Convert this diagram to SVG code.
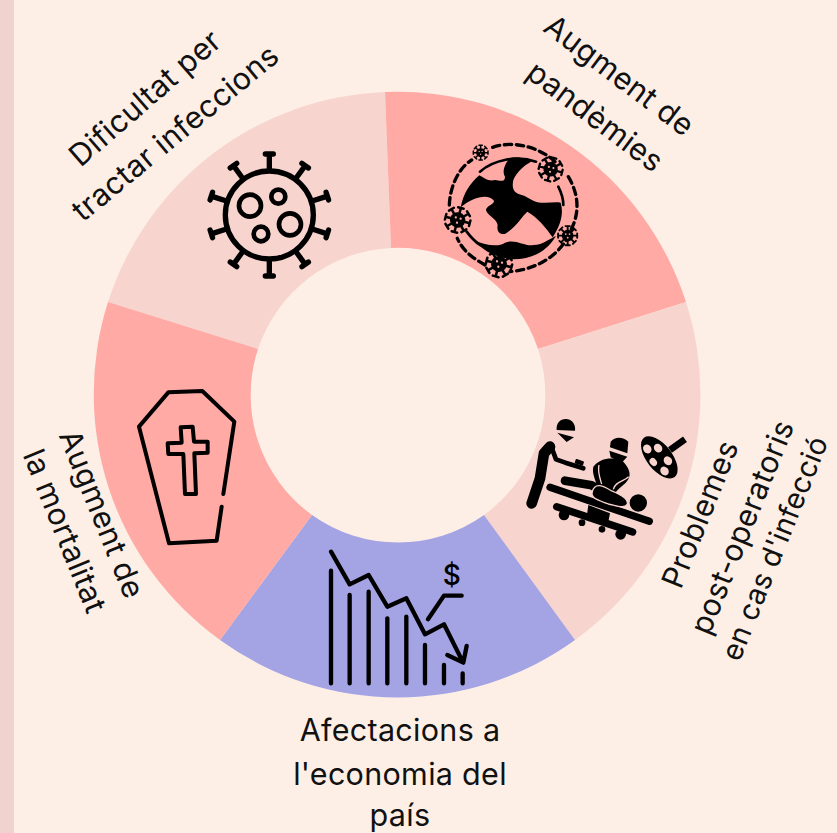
<svg xmlns="http://www.w3.org/2000/svg" width="837" height="833" viewBox="0 0 837 833">
<style>
text{font-family:"Inter","Liberation Sans",sans-serif;font-size:30.5px;letter-spacing:.3px;fill:#111;text-anchor:middle}
.k{fill:none;stroke:#000;stroke-linecap:round;stroke-linejoin:round}
.pink{fill:#ffaaa5}.light{fill:#f7d5ce}.blue{fill:#a4a3e4}
</style>
<defs>
<g id="mini">
<g class="k" stroke-width="2.2"><path id="sp" d="M0-11V11M-2.5-11H2.5M-2.5 11H2.5"/><use href="#sp" transform="rotate(45)"/><use href="#sp" transform="rotate(90)"/><use href="#sp" transform="rotate(135)"/></g>
<circle r="6.8"/><circle cx="-2.2" cy="-1.8" r="1" fill="#ffaaa5"/><circle cx="2.2" cy="-1.8" r="1" fill="#ffaaa5"/><circle cy="2.4" r="1" fill="#ffaaa5"/>
</g>
<path id="spoke" d="M238 85V42M226 42H250"/>
</defs>
<rect width="837" height="833" fill="#fdefe6"/>
<rect width="14" height="833" fill="#f0d3cf"/>
<g id="seg-top-left"><path class="light" d="M108 302A303 303 0 0 1 385 92L391 248A148 148 0 0 0 258 349Z"/></g>
<g id="seg-top-right"><path class="pink" d="M385 92A303 303 0 0 1 686 302L538 349A148 148 0 0 0 391 248Z"/></g>
<g id="seg-right"><path class="light" d="M686 302A303 303 0 0 1 575 640L484 515A148 148 0 0 0 538 349Z"/></g>
<g id="seg-bottom"><path class="blue" d="M575 640A303 303 0 0 1 220 640L312 515A148 148 0 0 0 484 515Z"/></g>
<g id="seg-left"><path class="pink" d="M220 640A303 303 0 0 1 108 302L258 349A148 148 0 0 0 312 515Z"/></g>

<g id="icon-virus" transform="translate(190 140) scale(.3333)">
<g class="k" stroke-width="16"><circle cx="238" cy="225" r="132"/>
<use href="#spoke"/><use href="#spoke" transform="rotate(36 238 225)"/><use href="#spoke" transform="rotate(72 238 225)"/><use href="#spoke" transform="rotate(108 238 225)"/><use href="#spoke" transform="rotate(144 238 225)"/><use href="#spoke" transform="rotate(180 238 225)"/><use href="#spoke" transform="rotate(216 238 225)"/><use href="#spoke" transform="rotate(252 238 225)"/><use href="#spoke" transform="rotate(288 238 225)"/><use href="#spoke" transform="rotate(324 238 225)"/>
</g>
<g class="k" stroke-width="14"><circle cx="180" cy="197" r="33"/><circle cx="265" cy="170" r="21"/><circle cx="300" cy="253" r="33"/><circle cx="213" cy="282" r="22"/></g>
</g>

<g id="icon-globe" transform="translate(430 130) scale(.3333)">
<path d="M92 232C100 190 120 160 148 136C165 145 175 155 195 150C210 152 225 158 225 140C215 125 225 100 240 84C265 80 290 85 303 95C285 105 260 125 250 150C245 175 250 190 275 195C295 200 310 218 335 218C355 220 375 215 392 218C402 250 392 285 368 322C350 295 320 260 292 245C275 260 260 290 225 312C205 315 200 300 203 285C200 265 170 255 168 240C170 225 192 225 192 212C175 190 130 200 92 232Z"/>
<path d="M135 332C165 345 205 352 225 338C255 325 285 350 310 345C340 345 360 325 378 318C350 365 305 388 250 388C205 385 160 365 135 332Z"/>
<path class="k" stroke-width="8" d="M110 305C125 325 135 335 150 345M385 170C395 190 400 205 400 225M150 125C190 90 260 75 318 95"/>
<path class="k" stroke-width="10" stroke-dasharray="22 14" d="M188 52C250 30 330 52 375 95M415 140C445 190 450 245 425 295C405 355 345 415 240 425M165 405C130 385 100 365 82 325M58 225C60 170 85 115 125 90"/>
<use href="#mini" transform="translate(152 68) scale(2)"/>
<use href="#mini" transform="translate(362 118) scale(3.2) rotate(15)"/>
<use href="#mini" transform="translate(83 270) scale(3.4) rotate(15)"/>
<use href="#mini" transform="translate(413 317) scale(2.6)"/>
<use href="#mini" transform="translate(207 402) scale(3.5) rotate(15)"/>
</g>

<g id="icon-surgery" transform="translate(520 410) scale(.3333)">
<path d="M110 60C108 35 125 25 140 27C160 28 168 50 165 62Z"/>
<path d="M112 68L162 82L140 96Z"/>
<path class="k" stroke-width="32" d="M35 280L60 205L72 130L90 110"/>
<path class="k" stroke-width="14" d="M92 105L108 148L136 158M136 158L190 175"/>
<rect x="165" y="150" width="26" height="14" rx="3" transform="rotate(18 178 157)"/>
<path class="k" stroke-width="22" d="M90 232L388 334M110 290L338 366"/>
<path d="M205 285L270 310L262 350L200 322Z"/>
<circle cx="132" cy="315" r="16"/><circle cx="302" cy="373" r="16"/><circle cx="186" cy="338" r="10"/><circle cx="246" cy="358" r="10"/>
<circle cx="355" cy="279" r="26"/>
<path class="k" stroke-width="26" d="M135 212L215 226L300 270"/>
<path d="M270 112L272 95C285 78 310 80 325 95L322 130Z"/>
<path d="M268 122L322 140L305 158L272 142Z"/>
<path d="M220 170C240 145 270 140 305 150C325 170 335 190 325 208C315 225 295 235 285 250L235 235C228 215 215 190 220 170Z"/>
<path d="M217 245C225 215 250 228 275 243C300 253 325 265 322 282C315 297 290 287 265 282C240 272 210 265 217 245Z" stroke="#f7d5ce" stroke-width="4"/>
<path d="M326 200C310 215 285 215 280 238M237 165C232 185 240 205 245 222" fill="none" stroke="#f7d5ce" stroke-width="4"/>
<g transform="rotate(-38 418 142)"><ellipse cx="418" cy="142" rx="38" ry="75"/>
<g fill="#f7d5ce"><ellipse cx="405" cy="100" rx="12" ry="14"/><ellipse cx="432" cy="118" rx="12" ry="14"/><ellipse cx="432" cy="166" rx="12" ry="14"/><ellipse cx="405" cy="184" rx="12" ry="14"/><ellipse cx="395" cy="142" rx="10" ry="13"/></g></g>
<path fill="none" stroke="#000" stroke-width="20" d="M450 120L495 88"/>
</g>

<g id="icon-chart" transform="translate(310 540) scale(.3333)">
<path class="k" stroke-width="13" d="M63 92V430M119 165V430M176 155V430M232 235V430M289 230V430M345 315V430M402 375V430M458 400V430"/>
<path class="k" stroke-width="13" d="M63 35L119 133L176 105L232 200L289 175L345 283L402 253L458 365M412 345L460 368L470 318M354 238L402 167H455"/>
</g>
<text id="dollar" x="452" y="585" style="font-size:28px;font-weight:500;fill:#000">$</text>

<g id="icon-coffin" transform="translate(125 380) scale(.3333)">
<path class="k" stroke-width="12" d="M295 342L328 125L232 33L130 37L42 140L132 490L275 482L290 380"/>
<path class="k" stroke-width="12" d="M167 142L203 140L207 185L248 185L248 218L208 220L213 342L180 342L175 222L130 222L128 190L170 188Z"/>
</g>

<g id="label-top-left"><text transform="translate(152 106) rotate(-41)">Dificultat per</text><text transform="translate(182 141) rotate(-39.5)">tractar infeccions</text></g>
<g id="label-top-right"><text transform="translate(613 84) rotate(37)">Augment de</text><text transform="translate(589 125) rotate(37)">pandèmies</text></g>
<g id="label-right"><text transform="translate(710 518) rotate(-68)">Problemes</text><text transform="translate(752 531) rotate(-68)">post-operatoris</text><text transform="translate(784 552) rotate(-68)" style="font-size:29px">en cas d'infecció</text></g>
<g id="label-bottom"><text x="400" y="741">Afectacions a</text><text x="400" y="785">l'economia del</text><text x="400" y="826">país</text></g>
<g id="label-left"><text transform="translate(92 518) rotate(68)">Augment de</text><text transform="translate(55 535) rotate(68)">la mortalitat</text></g>
</svg>
